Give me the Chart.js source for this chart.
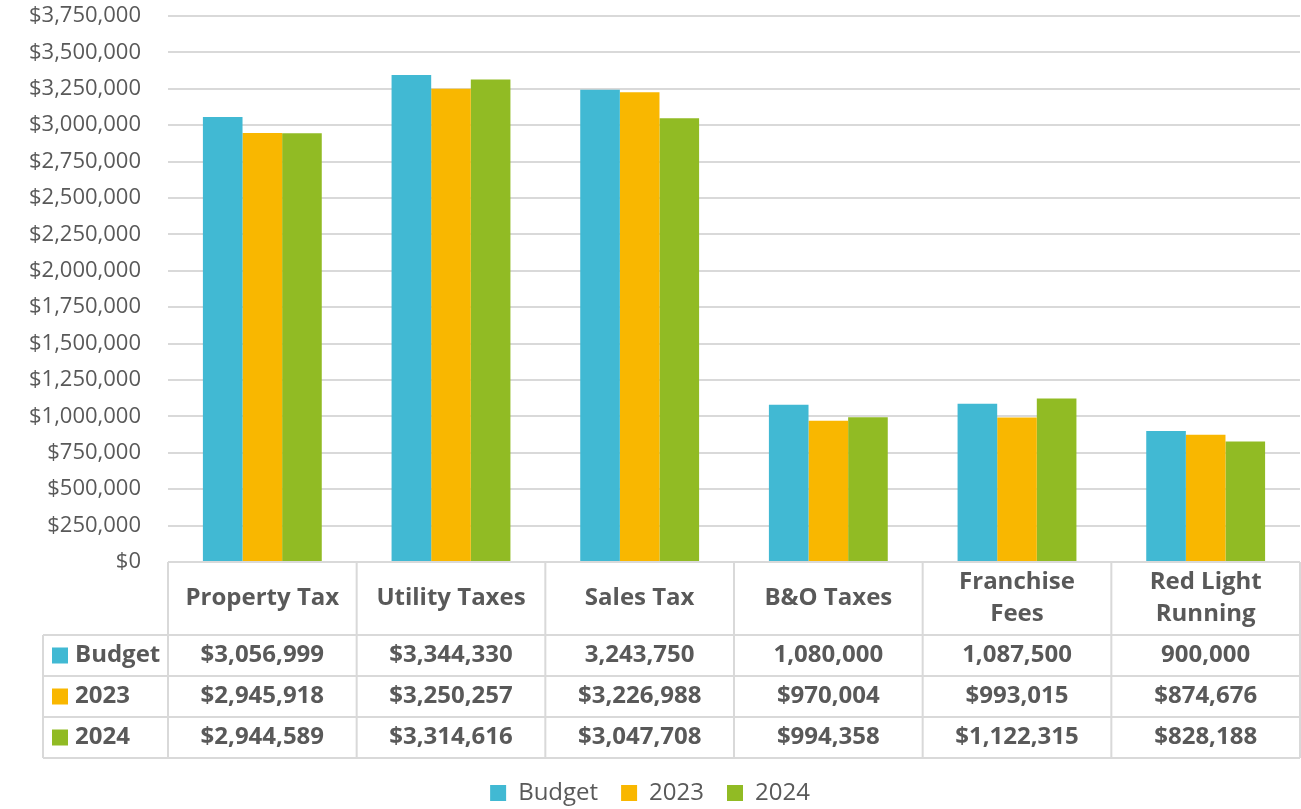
<!DOCTYPE html>
<html>
<head>
<meta charset="utf-8">
<script src="https://cdn.jsdelivr.net/npm/chart.js@4.4.1/dist/chart.umd.min.js"></script>
<style>
  html, body { margin: 0; padding: 0; background: #fff; }
  #wrap { width: 1301px; height: 809px; }
</style>
</head>
<body>
<div id="wrap"><canvas id="chart"></canvas></div>
<script>
const categories = [["Property Tax"], ["Utility Taxes"], ["Sales Tax"], ["B&O Taxes"], ["Franchise", "Fees"], ["Red Light", "Running"]];
const seriesNames = ["Budget", "2023", "2024"];
const budget = [3056999, 3344330, 3243750, 1080000, 1087500, 900000];
const y2023 = [2945918, 3250257, 3226988, 970004, 993015, 874676];
const y2024 = [2944589, 3314616, 3047708, 994358, 1122315, 828188];
// text as printed in the data table (budget row mixes "$" and no "$")
const budgetText = ["$3,056,999", "$3,344,330", "3,243,750", "1,080,000", "1,087,500", "900,000"];
const y2023Text = ["$2,945,918", "$3,250,257", "$3,226,988", "$970,004", "$993,015", "$874,676"];
const y2024Text = ["$2,944,589", "$3,314,616", "$3,047,708", "$994,358", "$1,122,315", "$828,188"];
const colors = ["#41b9d3", "#f9b700", "#91bb24"];

const FONT = "'Open Sans', Lato, sans-serif";
const TEXT = "#595959";
const LINE = "#d9d9d9";

function money(v) {
  return "$" + Math.round(v).toLocaleString("en-US");
}

const dataTable = {
  id: "dataTable",
  afterDraw(chart) {
    const ctx = chart.ctx;
    const x = chart.scales.x;
    const area = chart.chartArea;
    const n = categories.length;
    const w = area.width / n;
    const top = area.bottom;
    const headH = 73, rowH = 41;
    const tableLeft = 43;
    const rows = [budgetText, y2023Text, y2024Text];
    const bottom = top + headH + rowH * rows.length;

    ctx.save();
    ctx.strokeStyle = LINE;
    ctx.lineWidth = 2;
    ctx.beginPath();
    ctx.moveTo(area.left, top); ctx.lineTo(area.right, top);
    for (let r = 0; r <= rows.length; r++) {
      const yy = top + headH + r * rowH;
      ctx.moveTo(tableLeft, yy); ctx.lineTo(area.right, yy);
    }
    for (let i = 0; i <= n; i++) {
      const xx = area.left + i * w;
      ctx.moveTo(xx, top); ctx.lineTo(xx, bottom);
    }
    ctx.moveTo(tableLeft, top + headH); ctx.lineTo(tableLeft, bottom);
    ctx.stroke();

    ctx.fillStyle = TEXT;
    ctx.textAlign = "center";
    ctx.textBaseline = "middle";
    ctx.font = "bold 24px " + FONT;
    for (let i = 0; i < n; i++) {
      const cx = x.getPixelForValue(i);
      const lines = categories[i];
      const mid = top + headH / 2;
      lines.forEach((t, k) => {
        ctx.fillText(t, cx, mid + (k - (lines.length - 1) / 2) * 32);
      });
      rows.forEach((row, r) => {
        ctx.fillText(row[i], cx, top + headH + r * rowH + rowH / 2);
      });
    }
    ctx.textAlign = "left";
    seriesNames.forEach((s, r) => {
      const cy = top + headH + r * rowH + rowH / 2;
      ctx.fillStyle = colors[r];
      ctx.fillRect(52, cy - 8, 16, 16);
      ctx.fillStyle = TEXT;
      ctx.fillText(s, 75, cy);
    });
    ctx.restore();
  }
};

new Chart(document.getElementById("chart"), {
  type: "bar",
  data: {
    labels: categories,
    datasets: [
      { label: seriesNames[0], data: budget, backgroundColor: colors[0] },
      { label: seriesNames[1], data: y2023, backgroundColor: colors[1] },
      { label: seriesNames[2], data: y2024, backgroundColor: colors[2] },
    ]
  },
  options: {
    responsive: true,
    maintainAspectRatio: false,
    animation: false,
    layout: { padding: { top: 16, right: 1, bottom: -6, left: 0 } },
    datasets: { bar: { categoryPercentage: 0.63, barPercentage: 1.0 } },
    scales: {
      x: {
        grid: { display: false },
        border: { display: false },
        ticks: { display: false },
        afterFit: (scale) => { scale.height = 196; }
      },
      y: {
        min: 0,
        max: 3750000,
        border: { display: false },
        grid: { color: LINE, lineWidth: 2, drawTicks: true, tickLength: 27, tickColor: "rgba(0,0,0,0)" },
        ticks: {
          stepSize: 250000,
          padding: 0,
          color: TEXT,
          font: { family: FONT, size: 22 },
          callback: (v) => money(v)
        },
        afterFit: (scale) => { scale.width = 168; }
      }
    },
    plugins: {
      legend: {
        position: "bottom",
        labels: {
          color: TEXT,
          font: { family: FONT, size: 24 },
          boxWidth: 16,
          boxHeight: 16,
          padding: 23
        }
      },
      tooltip: { enabled: false }
    }
  },
  plugins: [dataTable]
});
</script>
</body>
</html>
